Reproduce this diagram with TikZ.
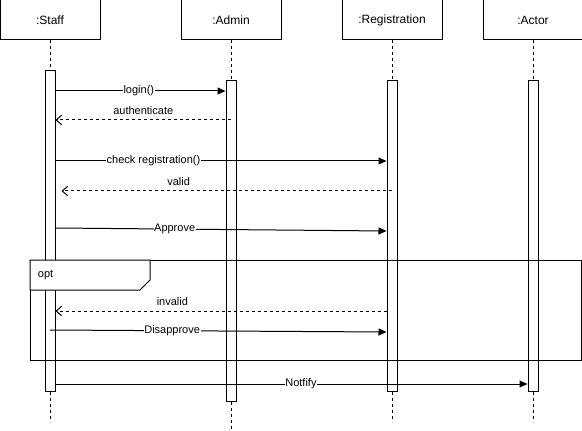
\documentclass[tikz,border=0pt]{standalone}
\usepackage{fontspec}
\setmainfont{Liberation Sans}
\usetikzlibrary{calc,positioning,arrows.meta}

\begin{document}
\begin{tikzpicture}[x=0.75pt, y=-0.75pt, line width=0.75pt,
  every node/.style={font=\fontsize{8.25}{10}\selectfont},
  head/.style={draw, minimum width=75pt, minimum height=30pt, inner sep=0pt, font=\fontsize{9}{11}\selectfont},
  act/.style={draw, fill=white, minimum width=7.5pt, inner sep=0pt},
  life/.style={dash pattern=on 2.25pt off 2.25pt},
  call/.style={-{Triangle[length=6pt,width=5.25pt]}},
  reply/.style={dash pattern=on 2.25pt off 2.25pt, -{Straight Barb[length=4pt,width=7pt]}},
  lbl/.style={fill=white, inner sep=0.5pt}]
  \useasboundingbox (0,0) rectangle (582,431);
  \node[head] (staff) at (50,20) {:Staff};
  \node[head, right=60pt of staff] (admin) {:Admin};
  \node[head, right=45pt of admin] (reg) {:Registration};
  \node[head, right=30pt of reg] (actor) {:Actor};
  \node[act, minimum height=240pt, below=22.5pt of staff] (staff-act) {};
  \node[act, minimum height=240pt, below=30pt of admin] (admin-act) {};
  \node[act, minimum height=232.5pt, below=30pt of reg] (reg-act) {};
  \node[act, minimum height=232.5pt, below=30pt of actor] (actor-act) {};
  \foreach \n in {staff,admin,reg,actor}{
    \draw[life] (\n.south) -- (\n-act.north);
    \draw[life] (\n-act.south) -- ++(0,30);
  }
  \draw (30,260) rectangle (581,360);
  \draw[fill=white] (30,260) -- (150,260) -- (150,280) -- (140,290) -- (30,290) -- cycle;
  \node[anchor=west] (opt) at (33,275) {opt};
  \draw[call] (staff-act.east |- 0,91) -- node[lbl, pos=.49] {login()} (admin-act.west |- 0,91);
  \draw[reply] (admin-act.center |- 0,120) -- node[above] {authenticate} (staff-act.east |- 0,120);
  \draw[call] (staff-act.east |- 0,161) -- node[lbl, pos=.296] {check registration()} (reg-act.west |- 0,161);
  \draw[reply, shorten >=4.5pt] (reg-act.center |- 0,191) -- node[above, pos=.634] {valid} (staff-act.east |- 0,191);
  \draw[call] (staff-act.east |- 0,228) -- node[lbl, pos=.36] {Approve} (reg-act.west |- 0,231);
  \draw[reply] (reg-act.west |- 0,311) -- node[above, pos=.647] {invalid} (staff-act.east |- 0,311);
  \draw[call] (staff-act.center |- 0,330) -- node[lbl, pos=.363] {Disapprove} (reg-act.west |- 0,332);
  \draw[call] (staff-act.east |- 0,384) -- node[lbl, pos=.52] {Notfify} (actor-act.west |- 0,384);
\end{tikzpicture}
\end{document}
